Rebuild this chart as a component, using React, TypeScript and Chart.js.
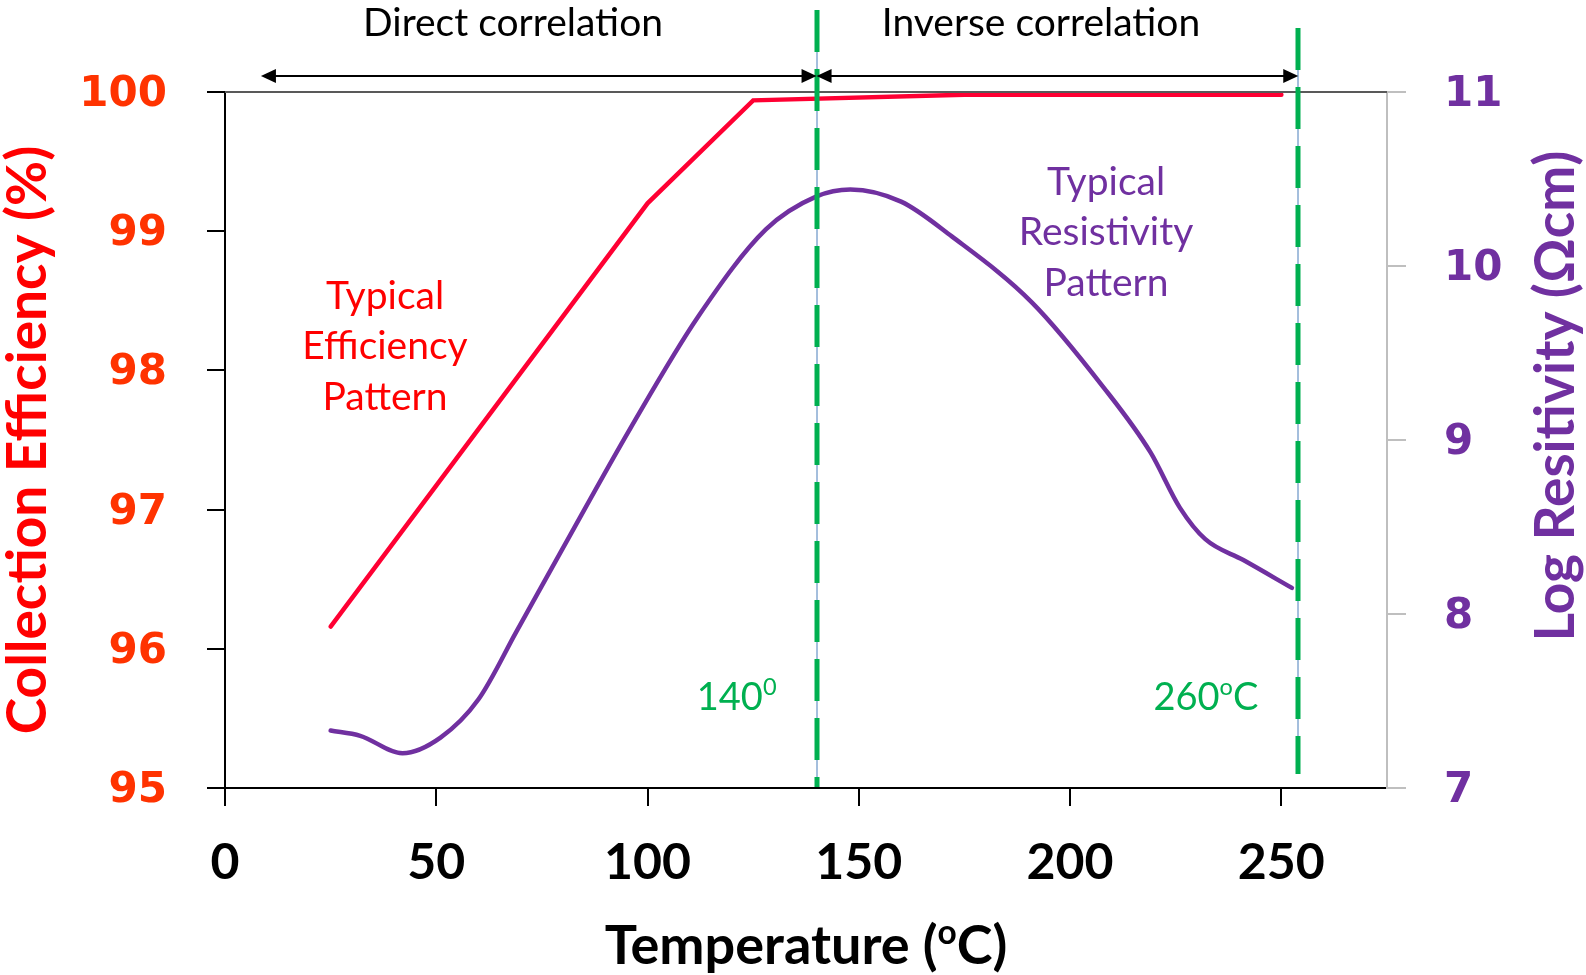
import React, { useEffect, useRef } from "react";
import { Chart, registerables } from "chart.js";

Chart.register(...registerables);

// ---------- data ----------
const effTemps = [25, 100, 125, 175, 250];
const efficiency = [96.16, 99.2, 99.94, 99.98, 99.98];

const resTemps = [25, 32, 42, 51, 60, 69, 80, 96, 112, 128, 140, 148, 160, 172, 191, 208, 219, 226, 232, 241, 252.5];
const logResistivity = [7.33, 7.3, 7.2, 7.29, 7.51, 7.9, 8.38, 9.07, 9.71, 10.21, 10.4, 10.44, 10.37, 10.17, 9.79, 9.3, 8.93, 8.61, 8.43, 8.31, 8.15];

const xTicks = [0, 50, 100, 150, 200, 250];
const effTicks = [95, 96, 97, 98, 99, 100];
const resTicks = [7, 8, 9, 10, 11];

const boundaryTemps = [140, 254];
const directRange = [8.5, 140];
const inverseRange = [140, 254];

const RED_LINE = "#FF0033";
const PURPLE = "#7030A0";
const GREEN = "#00B050";

type Seg = { t: string; sup?: boolean };

function drawSegs(ctx: CanvasRenderingContext2D, segs: Seg[], x: number, y: number, size: number, weight: string, family: string, align: "center" | "right" | "left") {
  const supSize = size * 0.62;
  const widths = segs.map((s) => {
    ctx.font = `${weight} ${s.sup ? supSize : size}px ${family}`;
    return ctx.measureText(s.t).width;
  });
  const total = widths.reduce((a, b) => a + b, 0);
  let cx = align === "center" ? x - total / 2 : align === "right" ? x - total : x;
  ctx.textAlign = "left";
  ctx.textBaseline = "alphabetic";
  segs.forEach((s, i) => {
    ctx.font = `${weight} ${s.sup ? supSize : size}px ${family}`;
    const by = y + size * 0.36 - (s.sup ? size * 0.38 : 0);
    ctx.fillText(s.t, cx, by);
    cx += widths[i];
  });
}

function arrowHead(ctx: CanvasRenderingContext2D, tipX: number, y: number, dir: number) {
  const len = 15;
  const half = 7;
  ctx.beginPath();
  ctx.moveTo(tipX, y);
  ctx.lineTo(tipX - dir * len, y - half);
  ctx.lineTo(tipX - dir * len, y + half);
  ctx.closePath();
  ctx.fill();
}

const annotations = {
  id: "annotations",
  afterDraw(chart: any) {
    const { ctx, chartArea, scales } = chart;
    const xs = scales.x;
    ctx.save();

    // top frame line
    ctx.strokeStyle = "#595959";
    ctx.lineWidth = 2;
    ctx.beginPath();
    ctx.moveTo(chartArea.left, chartArea.top);
    ctx.lineTo(chartArea.right, chartArea.top);
    ctx.stroke();

    // vertical boundary lines
    const spans = [
      [10, 787],
      [28, 774],
    ];
    boundaryTemps.forEach((t, i) => {
      const px = Math.round(xs.getPixelForValue(t));
      const [y0, y1] = spans[i];
      ctx.setLineDash([]);
      ctx.strokeStyle = "#4A7EBB";
      ctx.lineWidth = 1;
      ctx.beginPath();
      ctx.moveTo(px, y0);
      ctx.lineTo(px, y1);
      ctx.stroke();
      ctx.setLineDash([42, 17]);
      ctx.strokeStyle = GREEN;
      ctx.lineWidth = 5;
      ctx.beginPath();
      ctx.moveTo(px, y0);
      ctx.lineTo(px, y1);
      ctx.stroke();
    });
    ctx.setLineDash([]);

    // arrows
    const ay = 76;
    ctx.strokeStyle = "#000";
    ctx.fillStyle = "#000";
    ctx.lineWidth = 2;
    [directRange, inverseRange].forEach(([a, b]) => {
      const x1 = xs.getPixelForValue(a);
      const x2 = xs.getPixelForValue(b);
      ctx.beginPath();
      ctx.moveTo(x1 + 10, ay);
      ctx.lineTo(x2 - 10, ay);
      ctx.stroke();
      arrowHead(ctx, x1, ay, -1);
      arrowHead(ctx, x2, ay, 1);
    });

    // correlation labels
    ctx.fillStyle = "#000";
    ctx.font = "39px Lato";
    ctx.textAlign = "center";
    ctx.textBaseline = "middle";
    ctx.fillText("Direct correlation", 513, 23);
    ctx.fillText("Inverse correlation", 1041, 23);

    // pattern labels
    ctx.font = "39px Lato";
    ctx.fillStyle = "#FF0000";
    ["Typical", "Efficiency", "Pattern"].forEach((s, i) => ctx.fillText(s, 385, 296 + i * 50.5));
    ctx.fillStyle = PURPLE;
    ["Typical", "Resistivity", "Pattern"].forEach((s, i) => ctx.fillText(s, 1106, 182 + i * 50.5));

    // temperature labels
    ctx.fillStyle = GREEN;
    const l1 = xs.getPixelForValue(boundaryTemps[0]) - 40;
    const l2 = xs.getPixelForValue(boundaryTemps[1]) - 40;
    drawSegs(ctx, [{ t: "140" }, { t: "0", sup: true }], l1, 696, 38, "normal", "Lato", "right");
    drawSegs(ctx, [{ t: "260" }, { t: "o", sup: true }, { t: "C" }], l2, 696, 38, "normal", "Lato", "right");

    // x axis title
    ctx.fillStyle = "#000";
    drawSegs(
      ctx,
      [{ t: "Temperature (" }, { t: "o", sup: true }, { t: "C)" }],
      (chartArea.left + chartArea.right) / 2,
      945,
      54,
      "bold",
      "Lato",
      "center"
    );

    // right axis title (reads bottom to top)
    ctx.save();
    ctx.translate(1556, 396);
    ctx.rotate(-Math.PI / 2);
    ctx.fillStyle = PURPLE;
    ctx.font = "bold 55px Lato";
    ctx.textAlign = "center";
    ctx.textBaseline = "middle";
    ctx.fillText("Log Resitivity (Ωcm)", 0, 0);
    ctx.restore();

    ctx.restore();
  },
};

export default function App() {
  const ref = useRef<HTMLCanvasElement | null>(null);

  useEffect(() => {
    if (!ref.current) return;
    const chart = new Chart(ref.current, {
      type: "line",
      data: {
        datasets: [
          {
            label: "Efficiency",
            data: effTemps.map((x, i) => ({ x, y: efficiency[i] })),
            borderColor: RED_LINE,
            borderWidth: 4.5,
            pointRadius: 0,
            tension: 0,
            yAxisID: "y",
            borderCapStyle: "round",
            clip: false as any,
          },
          {
            label: "Resistivity",
            data: resTemps.map((x, i) => ({ x, y: logResistivity[i] })),
            borderColor: PURPLE,
            borderWidth: 4.5,
            pointRadius: 0,
            cubicInterpolationMode: "monotone",
            yAxisID: "y1",
            borderCapStyle: "round",
            clip: false as any,
          },
        ],
      },
      options: {
        responsive: false,
        animation: false,
        devicePixelRatio: 1,
        layout: { padding: { top: 92, left: 0, right: 0, bottom: 0 } },
        plugins: {
          legend: { display: false },
          tooltip: { enabled: false },
        },
        scales: {
          x: {
            type: "linear",
            min: 0,
            max: 275,
            afterBuildTicks: (s: any) => {
              s.ticks = xTicks.map((v) => ({ value: v }));
            },
            afterFit: (s: any) => {
              s.height = 187;
            },
            grid: {
              drawOnChartArea: false,
              drawTicks: true,
              tickLength: 18,
              color: "#000",
              lineWidth: 2,
            },
            border: { color: "#000", width: 2 },
            ticks: {
              color: "#000",
              padding: 27,
              maxRotation: 0,
              autoSkip: false,
              font: { family: "Lato", weight: "bold", size: 50 },
              callback: (v: any) => String(v),
            },
          },
          y: {
            type: "linear",
            position: "left",
            min: 95,
            max: 100,
            afterBuildTicks: (s: any) => {
              s.ticks = effTicks.map((v) => ({ value: v }));
            },
            afterFit: (s: any) => {
              s.width = 225;
            },
            grid: {
              drawOnChartArea: false,
              drawTicks: true,
              tickLength: 18,
              color: "#000",
              lineWidth: 2,
            },
            border: { color: "#000", width: 2 },
            ticks: {
              color: "#FF3300",
              padding: 40,
              labelOffset: 3,
              font: { family: "DejaVu Sans", weight: "bold", size: 42 },
              callback: (v: any) => String(v),
            },
            title: {
              display: true,
              text: "Collection Efficiency (%)",
              color: "#FF0000",
              font: { family: "Lato", weight: "bold", size: 55, lineHeight: 1 },
              padding: { top: 1, bottom: 0 },
            },
          },
          y1: {
            type: "linear",
            position: "right",
            min: 7,
            max: 11,
            afterBuildTicks: (s: any) => {
              s.ticks = resTicks.map((v) => ({ value: v }));
            },
            afterFit: (s: any) => {
              s.width = 199;
            },
            grid: {
              drawOnChartArea: false,
              drawTicks: true,
              tickLength: 19,
              color: "#BFBFBF",
              lineWidth: 2,
            },
            border: { color: "#BFBFBF", width: 2 },
            ticks: {
              color: PURPLE,
              padding: 38,
              labelOffset: 3,
              font: { family: "DejaVu Sans", weight: "bold", size: 42 },
              callback: (v: any) => String(v),
            },
          },
        },
      },
      plugins: [annotations],
    });
    return () => chart.destroy();
  }, []);

  return (
    <div style={{ position: "fixed", left: 0, top: 0, width: 1586, height: 975, background: "#fff" }}>
      <canvas ref={ref} width={1586} height={975} style={{ display: "block", width: 1586, height: 975 }} />
    </div>
  );
}
